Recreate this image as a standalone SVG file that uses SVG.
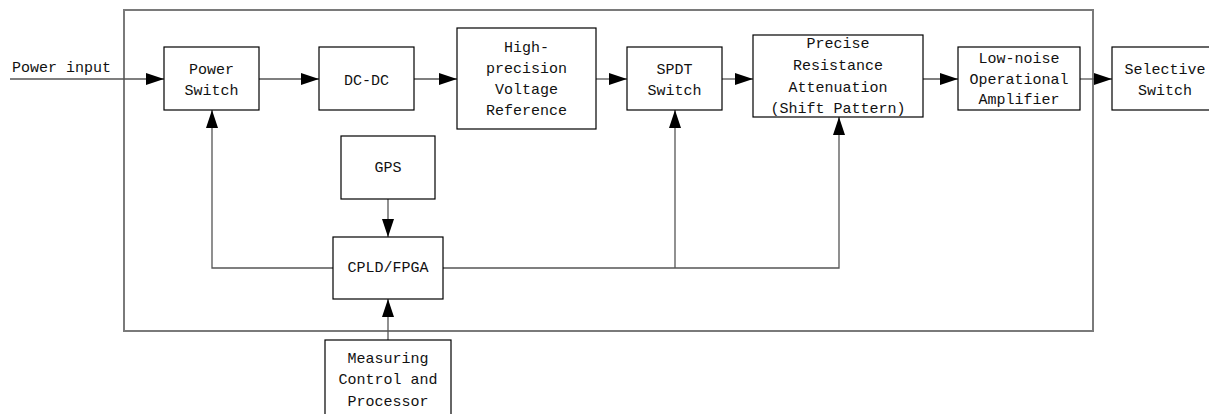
<svg xmlns="http://www.w3.org/2000/svg" width="1209" height="414" viewBox="0 0 1209 414">
<style>
.box{fill:#fff;stroke:#000;stroke-width:1.2}
.frame{fill:none;stroke:#7a7a7a;stroke-width:2}
.conn{fill:none;stroke:#555;stroke-width:1.3}
text{font-family:"Liberation Mono","DejaVu Sans Mono",monospace;font-size:15px;fill:#111;text-anchor:middle}
</style>
<defs>
<marker id="arr" markerUnits="userSpaceOnUse" markerWidth="18" markerHeight="12" refX="18" refY="6" orient="auto">
<path d="M0,0 L18,6 L0,12 z" fill="#000"/>
</marker>
</defs>
<rect class="frame" x="124" y="10" width="969" height="321"/>
<g id="connectors">
<line class="conn" x1="10" y1="79" x2="164" y2="79" marker-end="url(#arr)"/>
<line class="conn" x1="259" y1="79" x2="319" y2="79" marker-end="url(#arr)"/>
<line class="conn" x1="414" y1="79" x2="457" y2="79" marker-end="url(#arr)"/>
<line class="conn" x1="596" y1="79" x2="627" y2="79" marker-end="url(#arr)"/>
<line class="conn" x1="722" y1="79" x2="753" y2="79" marker-end="url(#arr)"/>
<line class="conn" x1="923" y1="79" x2="958" y2="79" marker-end="url(#arr)"/>
<line class="conn" x1="1080" y1="79" x2="1112" y2="79" marker-end="url(#arr)"/>
<line class="conn" x1="388" y1="199" x2="388" y2="237" marker-end="url(#arr)"/>
<line class="conn" x1="388" y1="340" x2="388" y2="299" marker-end="url(#arr)"/>
<polyline class="conn" points="333,268 212,268 212,110" marker-end="url(#arr)"/>
<polyline class="conn" points="443,268 839,268 839,117" marker-end="url(#arr)"/>
<line class="conn" x1="675" y1="268" x2="675" y2="110" marker-end="url(#arr)"/>
</g>
<text x="12" y="72" style="text-anchor:start">Power input</text>
<g id="power-switch">
<rect class="box" x="164" y="47" width="95" height="63"/>
<text x="211.5" y="74">Power</text>
<text x="211.5" y="95">Switch</text>
</g>
<g id="dc-dc">
<rect class="box" x="319" y="47" width="95" height="63"/>
<text x="366.5" y="85">DC-DC</text>
</g>
<g id="voltage-reference">
<rect class="box" x="457" y="28" width="139" height="101"/>
<text x="526.5" y="52">High-</text>
<text x="526.5" y="73">precision</text>
<text x="526.5" y="94">Voltage</text>
<text x="526.5" y="115">Reference</text>
</g>
<g id="spdt-switch">
<rect class="box" x="627" y="47" width="95" height="63"/>
<text x="674.5" y="74">SPDT</text>
<text x="674.5" y="95">Switch</text>
</g>
<g id="attenuation">
<rect class="box" x="753" y="35" width="170" height="82"/>
<text x="838" y="48">Precise</text>
<text x="838" y="70">Resistance</text>
<text x="838" y="92">Attenuation</text>
<text x="838" y="113">(Shift Pattern)</text>
</g>
<g id="op-amp">
<rect class="box" x="958" y="47" width="122" height="63"/>
<text x="1019" y="63">Low-noise</text>
<text x="1019" y="84">Operational</text>
<text x="1019" y="104">Amplifier</text>
</g>
<g id="selective-switch">
<rect class="box" x="1112" y="47" width="110" height="63"/>
<text x="1165" y="74">Selective</text>
<text x="1165" y="95">Switch</text>
</g>
<g id="gps">
<rect class="box" x="341" y="136" width="94" height="63"/>
<text x="388" y="172">GPS</text>
</g>
<g id="cpld-fpga">
<rect class="box" x="333" y="237" width="110" height="62"/>
<text x="388" y="272">CPLD/FPGA</text>
</g>
<g id="measuring-control">
<rect class="box" x="325" y="340" width="126" height="90"/>
<text x="388" y="363">Measuring</text>
<text x="388" y="384">Control and</text>
<text x="388" y="406">Processor</text>
</g>
</svg>
